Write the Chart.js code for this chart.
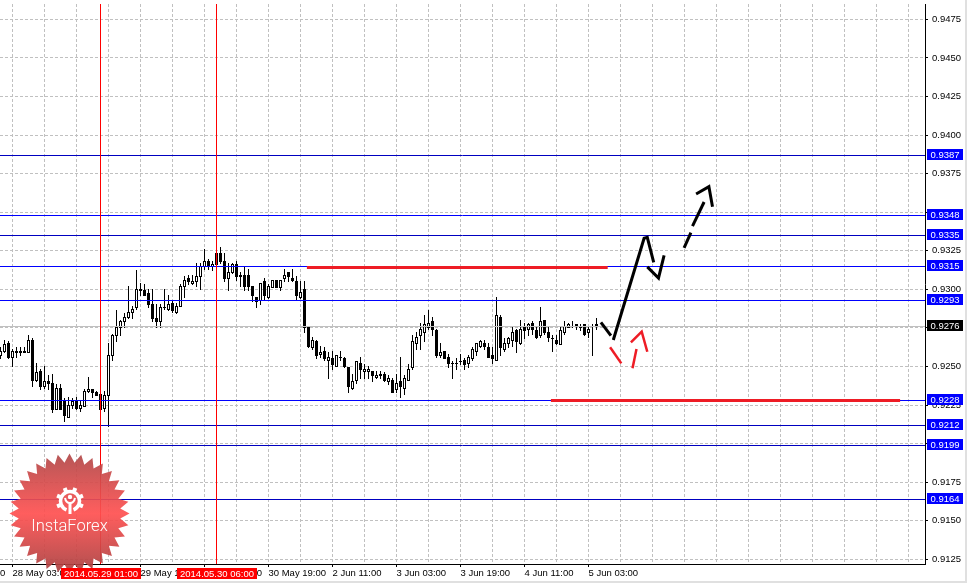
<!DOCTYPE html>
<html>
<head>
<meta charset="utf-8">
<title>USDCHF H1</title>
<style>
  html, body { margin: 0; padding: 0; background: #fff; }
  #wrap { width: 965px; height: 581px; border-right: 2px solid #e0e0e0; border-bottom: 2px solid #e0e0e0; }
  canvas { display: block; }
</style>
<script src="https://cdn.jsdelivr.net/npm/chart.js@4"></script>
</head>
<body>
<div id="wrap"><canvas id="chart" width="965" height="581"></canvas></div>
<script>
// candles, hourly, last four digits of the price (0.9257 -> 9257)
const opens = [
  9257,9260,9265,9256,9260,9260,9260,9259,9267,9241,
  9247,9237,9240,9239,9222,9236,9228,9217,9225,9228,
  9223,9224,9234,9235,9233,9232,9223,9231,9257,9270,
  9275,9279,9282,9285,9288,9300,9299,9297,9290,9281,
  9279,9288,9287,9291,9285,9289,9302,9307,9304,9305,
  9308,9315,9318,9315,9323,9323,9318,9307,9311,9316,
  9308,9309,9309,9302,9295,9293,9305,9295,9301,9306,
  9301,9307,9311,9307,9305,9295,9300,9276,9262,9266,
  9258,9260,9254,9255,9250,9256,9255,9249,9236,9241,
  9252,9247,9247,9247,9243,9245,9245,9240,9241,9235,
  9240,9236,9241,9249,9265,9270,9272,9275,9279,9273,
  9257,9260,9256,9252,9252,9253,9254,9252,9255,9260,
  9263,9265,9262,9257,9254,9282,9261,9265,9267,9273,
  9265,9276,9274,9278,9273,9270,9280,9272,9268,9267,
  9264,9272,9275,9276,9277,9276,9277,9272,9276,9277];
const closes = [
  9260,9264,9256,9260,9259,9259,9259,9267,9241,9246,
  9237,9240,9239,9222,9236,9222,9218,9225,9227,9223,
  9225,9234,9235,9233,9231,9222,9231,9257,9270,9275,
  9279,9282,9285,9287,9300,9299,9296,9290,9281,9279,
  9288,9288,9290,9286,9289,9302,9306,9305,9305,9308,
  9315,9318,9315,9316,9316,9318,9307,9311,9316,9308,
  9309,9302,9302,9296,9292,9304,9296,9302,9306,9301,
  9306,9309,9308,9306,9296,9298,9275,9263,9267,9257,
  9259,9255,9256,9251,9257,9256,9250,9237,9240,9253,
  9248,9248,9248,9244,9244,9244,9241,9242,9233,9239,
  9237,9242,9248,9266,9269,9274,9277,9278,9274,9257,
  9259,9255,9252,9252,9252,9253,9251,9256,9261,9265,
  9266,9263,9256,9255,9283,9262,9265,9268,9272,9266,
  9274,9273,9277,9274,9269,9279,9272,9269,9268,9265,
  9273,9276,9277,9276,9276,9275,9271,9274,9276,9276];
const highs = [
  9262,9267,9266,9261,9262,9262,9262,9270,9268,9252,
  9248,9250,9244,9245,9238,9238,9229,9230,9229,9230,
  9228,9235,9243,9235,9234,9232,9234,9265,9271,9286,
  9280,9284,9302,9289,9312,9304,9303,9300,9300,9290,
  9290,9300,9296,9293,9291,9303,9308,9309,9309,9317,
  9317,9326,9319,9318,9323,9327,9323,9317,9317,9318,
  9311,9314,9313,9302,9295,9304,9307,9303,9306,9306,
  9306,9313,9311,9313,9308,9305,9305,9276,9269,9267,
  9263,9262,9259,9260,9257,9260,9256,9249,9245,9253,
  9256,9251,9250,9247,9247,9247,9246,9244,9242,9245,
  9256,9244,9251,9270,9272,9278,9283,9286,9282,9274,
  9265,9260,9258,9253,9255,9258,9255,9257,9262,9265,
  9267,9267,9265,9262,9295,9283,9268,9269,9275,9274,
  9280,9278,9278,9279,9275,9288,9280,9276,9270,9270,
  9275,9279,9278,9279,9277,9277,9277,9276,9277,9281];
const lows = [
  9255,9259,9255,9250,9256,9257,9259,9259,9237,9240,
  9235,9236,9235,9220,9222,9222,9214,9217,9223,9222,
  9221,9224,9233,9230,9231,9222,9221,9211,9254,9266,
  9270,9275,9281,9281,9287,9296,9296,9288,9279,9275,
  9275,9287,9286,9285,9284,9289,9295,9303,9303,9302,
  9300,9313,9313,9312,9316,9317,9305,9299,9310,9306,
  9302,9299,9299,9292,9288,9290,9293,9294,9301,9301,
  9299,9305,9305,9305,9293,9294,9272,9262,9261,9255,
  9256,9254,9242,9248,9250,9254,9249,9233,9235,9239,
  9242,9242,9242,9240,9242,9242,9240,9238,9233,9233,
  9230,9232,9241,9248,9261,9261,9266,9274,9270,9256,
  9256,9255,9249,9242,9248,9251,9248,9249,9254,9257,
  9262,9261,9256,9252,9254,9257,9260,9262,9263,9259,
  9264,9268,9270,9271,9268,9269,9271,9266,9260,9264,
  9264,9271,9275,9275,9274,9273,9270,9269,9257,9274];

// axes
const yTicks = [0.9475,0.9450,0.9425,0.9400,0.9375,0.9350,0.9325,0.9300,0.9275,0.9250,0.9225,0.9200,0.9175,0.9150,0.9125];
const xTickBars = [-13,3,19,35,51,67,83,99,115,131,147];
const xTickLabels = ["27 May 11:00","28 May 03:00","28 May 19:00","29 May 11:00","30 May 03:00","30 May 19:00","2 Jun 11:00","3 Jun 03:00","3 Jun 19:00","4 Jun 11:00","5 Jun 03:00"];
const xGridBars = [-5,3,11,19,27,35,43,51,59,67,75,83,91,99,107,115,123,131,139,147,155,163,171,179,187,195,203,211,219,227];

// horizontal levels with their price boxes
const levelPrices = [0.9387,0.9348,0.9335,0.9315,0.9293,0.9228,0.9212,0.9199,0.9164];
const levelColors = ["#0000c0","#0000ff","#0000c0","#0000ff","#0000ff","#0000ff","#0000c0","#0000c0","#0000c0"];
const bidPrice = 0.9276;

// vertical time markers
const markerBars = [25,54];
const markerLabels = ["2014.05.29 01:00","2014.05.30 06:00"];

// thick red levels: [bar from, bar to, price]
const redLevels = [[76.6,151.8,0.93145],[137.6,224.9,0.9228]];

// hand drawn forecast strokes, [bar, price]
const blackStrokes = [
  [[150.1,0.92786],[152.6,0.92700]],
  [[153.2,0.92671],[160.9,0.93331],[161.7,0.93337],[163.3,0.93175]],
  [[161.7,0.93145],[164.5,0.93073],[165.9,0.93220]],
  [[170.9,0.93268],[172.6,0.93367]],
  [[173.0,0.93410],[175.9,0.93566]],
  [[173.9,0.93618],[177.1,0.93665],[178.0,0.93535]]
];
const redStrokes = [
  [[152.4,0.92624],[155.2,0.92520]],
  [[158.0,0.92488],[159.0,0.92613]],
  [[157.6,0.92656],[160.3,0.92725],[161.7,0.92595]]
];

const xMin = -0.125, xMax = 231.125;
const yMin = 0.912195, yMax = 0.948492;
const FONT = '"Liberation Sans", Arial, sans-serif';
const RED = "#ee1c25";

function hLine(price, color, order) {
  return { type: "line", data: [{x: xMin, y: price}, {x: xMax, y: price}], borderColor: color, borderWidth: 1,
           pointRadius: 0, order: order, snap: true };
}

var datasets = [];
// wicks and bodies
datasets.push({
  type: "bar", order: 20, grouped: false, barThickness: 1, backgroundColor: "#000", borderWidth: 0, inflateAmount: 0,
  data: highs.map(function (h, i) { return {x: i, y: [lows[i] / 10000, h / 10000]}; })
});
datasets.push({
  type: "bar", order: 19, grouped: false, barThickness: 3, borderColor: "#000", borderWidth: 1, borderSkipped: false, inflateAmount: 0,
  backgroundColor: closes.map(function (c, i) { return c > opens[i] ? "#fff" : "#000"; }),
  data: opens.map(function (o, i) { return {x: i, y: [o / 10000, closes[i] / 10000]}; })
});
datasets.push(hLine(bidPrice, "#c0c0c0", 15));
levelPrices.forEach(function (p, i) { datasets.push(hLine(p, levelColors[i], 10)); });
markerBars.forEach(function (b) {
  datasets.push({ type: "line", data: [{x: b, y: yMin}, {x: b, y: yMax}], borderColor: "#ff0000", borderWidth: 1, pointRadius: 0, order: 9 });
});
redLevels.forEach(function (r) {
  datasets.push({ type: "line", data: [{x: r[0], y: r[2]}, {x: r[1], y: r[2]}], borderColor: RED, borderWidth: 3, pointRadius: 0, order: 5, snap: true });
});
function stroke(points, color, width) {
  datasets.push({ type: "line", data: points.map(function (p) { return {x: p[0], y: p[1]}; }), borderColor: color,
                  borderWidth: width, pointRadius: 0, tension: 0, order: 2, clip: false });
}
blackStrokes.forEach(function (s) { stroke(s, "#000", 3); });
redStrokes.forEach(function (s) { stroke(s, RED, 2.5); });

// round everything to whole pixels so candles and levels stay crisp like the terminal
const snapPlugin = {
  id: "snap",
  afterDatasetsUpdate: function (chart) {
    chart.data.datasets.forEach(function (ds, i) {
      var meta = chart.getDatasetMeta(i);
      if (ds.type === "bar") {
        meta.data.forEach(function (el) {
          var top = Math.floor(Math.min(el.y, el.base));
          var bottom = Math.floor(Math.max(el.y, el.base)) + 1;
          el.y = top; el.base = bottom; el.height = bottom - top;
        });
      } else if (ds.snap) {
        meta.data.forEach(function (el) { el.y = Math.round(el.y) + 0.5; });
      }
    });
  }
};

function drawBadge(ctx) {
  var cx = 69.5, cy = 513.5, spikes = 32;
  ctx.save();
  var g = ctx.createLinearGradient(0, cy - 60, 0, cy + 60);
  g.addColorStop(0, "rgba(176,72,72,0.92)");
  g.addColorStop(0.5, "rgba(255,80,80,0.92)");
  g.addColorStop(1, "rgba(168,64,64,0.92)");
  ctx.fillStyle = g;
  ctx.beginPath();
  for (var i = 0; i < spikes * 2; i++) {
    var r = i % 2 ? 51 : 60, a = Math.PI * i / spikes;
    ctx.lineTo(cx + r * Math.cos(a), cy + r * Math.sin(a));
  }
  ctx.closePath();
  ctx.fill();

  // gear with the little figure
  var gx = 70, gy = 501;
  ctx.strokeStyle = "#fff"; ctx.fillStyle = "#fff";
  ctx.lineWidth = 3.5;
  ctx.beginPath(); ctx.arc(gx, gy, 9.5, Math.PI * 0.62, Math.PI * 0.38); ctx.stroke();
  for (var t = 0; t < 8; t++) {
    var ang = Math.PI / 8 + t * Math.PI / 4;
    if (t === 1 || t === 2) continue;
    ctx.save(); ctx.translate(gx, gy); ctx.rotate(ang);
    ctx.fillRect(9.5, -2, 4.5, 4);
    ctx.restore();
  }
  ctx.lineWidth = 2;
  ctx.beginPath(); ctx.arc(gx, gy - 4, 2.2, 0, Math.PI * 2); ctx.fill();
  ctx.beginPath(); ctx.moveTo(gx - 5, gy - 3); ctx.quadraticCurveTo(gx - 4, gy + 2, gx, gy + 2);
  ctx.quadraticCurveTo(gx + 4, gy + 2, gx + 5, gy - 3); ctx.stroke();
  ctx.fillRect(gx - 1.5, gy + 1, 3, 12);

  ctx.font = "300 16.5px Roboto, sans-serif";
  ctx.textAlign = "center"; ctx.textBaseline = "alphabetic";
  ctx.fillText("InstaForex", 69.5, 531);
  ctx.restore();
}

// price boxes on the right, date boxes under the time axis, badge
const overlayPlugin = {
  id: "overlay",
  afterDraw: function (chart) {
    var ctx = chart.ctx, ys = chart.scales.y, xs = chart.scales.x;
    drawBadge(ctx);
    ctx.save();
    ctx.font = "9.5px " + FONT;
    ctx.textBaseline = "middle";
    ctx.textAlign = "center";
    function box(x, y, w, h, fill, text) {
      ctx.fillStyle = fill;
      ctx.fillRect(x, y, w, h);
      ctx.fillStyle = "#fff";
      ctx.fillText(text, x + w / 2, y + h / 2 + 0.5);
    }
    levelPrices.forEach(function (p) {
      var y = Math.round(ys.getPixelForValue(p));
      box(927, y - 6, 36, 11, "#0000ff", p.toFixed(4));
    });
    box(927, Math.round(ys.getPixelForValue(bidPrice)) - 6, 36, 11, "#000", bidPrice.toFixed(4));
    markerBars.forEach(function (b, i) {
      var x = Math.round(xs.getPixelForValue(b));
      box(x - 40, 568, 80, 11, "#ff0000", markerLabels[i]);
    });
    ctx.restore();
  }
};

function noPadding(scale) {
  scale.paddingLeft = scale.paddingRight = scale.paddingTop = scale.paddingBottom = 0;
}

new Chart(document.getElementById("chart"), {
  type: "bar",
  data: { datasets: datasets },
  options: {
    responsive: false,
    devicePixelRatio: 1,
    animation: false,
    events: [],
    layout: { autoPadding: false, padding: { top: 4 } },
    plugins: { legend: { display: false }, tooltip: { enabled: false } },
    scales: {
      x: {
        type: "linear", min: xMin, max: xMax, offset: false,
        afterBuildTicks: function (scale) {
          scale.ticks = xGridBars.concat([-13]).sort(function (a, b) { return a - b; }).map(function (v) { return {value: v}; });
        },
        afterFit: function (scale) { scale.height = 17; noPadding(scale); },
        grid: {
          offset: false, color: "#c0c0c0", tickLength: 3, tickBorderDash: [],
          tickColor: function (c) { return c.tick && c.tick.label ? "#000" : "rgba(0,0,0,0)"; }
        },
        border: { color: "#000", width: 1, dash: [3, 2] },
        ticks: {
          autoSkip: false, maxRotation: 0, minRotation: 0, align: "start", padding: 1,
          color: "#000", font: { family: FONT, size: 9.5 },
          callback: function (v) { var i = xTickBars.indexOf(v); return i < 0 ? "" : xTickLabels[i]; }
        }
      },
      y: {
        type: "linear", position: "right", min: yMin, max: yMax,
        afterBuildTicks: function (scale) { scale.ticks = yTicks.map(function (v) { return {value: v}; }); },
        afterFit: function (scale) { scale.width = 40; noPadding(scale); },
        grid: { color: "#c0c0c0", tickLength: 3, tickColor: "#000", tickBorderDash: [] },
        border: { color: "#000", width: 1, dash: [3, 2] },
        ticks: {
          padding: 4, color: "#000", font: { family: FONT, size: 9.5 },
          callback: function (v) { return v.toFixed(4); }
        }
      }
    }
  },
  plugins: [snapPlugin, overlayPlugin]
});
</script>
</body>
</html>
